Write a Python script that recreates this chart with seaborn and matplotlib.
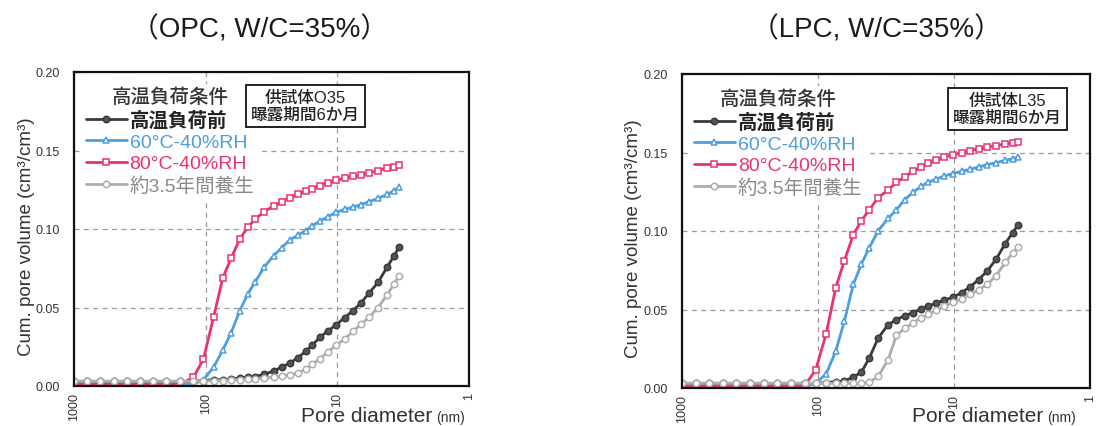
import matplotlib
matplotlib.use("Agg")
import matplotlib.pyplot as plt
from matplotlib.ticker import FixedLocator, FixedFormatter, NullLocator
import pandas as pd
import seaborn as sns

# Pore diameters (nm) of the mercury intrusion steps
diameter_nm = [1000, 794, 631, 501, 398, 316, 251, 200, 158, 124, 104, 87, 74, 64,
               55, 48, 42, 36, 30.5, 26.5, 23, 20, 17.4, 15.5, 13.6, 11.8, 10.2,
               8.8, 7.6, 6.6, 5.7, 4.9, 4.2, 3.7, 3.4]

# Cumulative pore volume (cm3/cm3), OPC specimen O35
opc_before = [0.003, 0.003, 0.003, 0.003, 0.003, 0.003, 0.003, 0.003, 0.003, 0.003,
              0.0035, 0.004, 0.004, 0.0045, 0.005, 0.0055, 0.006, 0.0075, 0.0095,
              0.012, 0.0145, 0.018, 0.022, 0.026, 0.031, 0.035, 0.039, 0.0435,
              0.048, 0.053, 0.0595, 0.066, 0.0756, 0.083, 0.0884]
opc_60c = [0.001, 0.001, 0.001, 0.001, 0.001, 0.001, 0.001, 0.001, 0.001, 0.001,
           0.004, 0.012, 0.023, 0.034, 0.048, 0.0585, 0.0664, 0.0756, 0.083, 0.088,
           0.093, 0.096, 0.099, 0.102, 0.105, 0.1078, 0.1107, 0.1125, 0.114,
           0.1155, 0.1175, 0.1195, 0.122, 0.1245, 0.1267]
opc_80c = [0.001, 0.001, 0.001, 0.001, 0.001, 0.001, 0.001, 0.001, 0.001, 0.0055,
           0.017, 0.044, 0.069, 0.0815, 0.0937, 0.101, 0.1064, 0.111, 0.1146,
           0.1175, 0.120, 0.122, 0.124, 0.1256, 0.1277, 0.1295, 0.131, 0.1322,
           0.1335, 0.1345, 0.1358, 0.1372, 0.1388, 0.1398, 0.1405]
opc_cured = [0.003, 0.003, 0.003, 0.003, 0.003, 0.003, 0.003, 0.003, 0.003, 0.003,
             0.003, 0.0035, 0.0035, 0.004, 0.004, 0.0045, 0.0045, 0.005, 0.0058,
             0.0065, 0.0072, 0.008, 0.0107, 0.0138, 0.0174, 0.0217, 0.026, 0.030,
             0.0348, 0.0394, 0.044, 0.050, 0.058, 0.065, 0.0702]

# Cumulative pore volume (cm3/cm3), LPC specimen L35
lpc_before = [0.003, 0.003, 0.003, 0.003, 0.003, 0.003, 0.003, 0.003, 0.003, 0.003,
              0.003, 0.0035, 0.004, 0.0045, 0.007, 0.010, 0.019, 0.032, 0.0403,
              0.0435, 0.046, 0.048, 0.0505, 0.052, 0.054, 0.056, 0.0577, 0.0607,
              0.0645, 0.069, 0.0745, 0.082, 0.092, 0.099, 0.1036]
lpc_60c = [0.001, 0.001, 0.001, 0.001, 0.001, 0.001, 0.001, 0.001, 0.001, 0.001,
           0.003, 0.009, 0.0236, 0.0425, 0.066, 0.0788, 0.0893, 0.1003, 0.108,
           0.1135, 0.120, 0.1246, 0.1286, 0.131, 0.133, 0.135, 0.1366, 0.138,
           0.1393, 0.1408, 0.1423, 0.1435, 0.145, 0.146, 0.147]
lpc_80c = [0.001, 0.001, 0.001, 0.001, 0.001, 0.001, 0.001, 0.001, 0.001, 0.002,
           0.0115, 0.0347, 0.064, 0.081, 0.0977, 0.1065, 0.1135, 0.1213, 0.1261,
           0.131, 0.1345, 0.1381, 0.1408, 0.143, 0.1451, 0.1472, 0.1486, 0.1499,
           0.1512, 0.1523, 0.1534, 0.1544, 0.1555, 0.1561, 0.1566]
lpc_cured = [0.003, 0.003, 0.003, 0.003, 0.003, 0.003, 0.003, 0.003, 0.003, 0.003,
             0.003, 0.003, 0.003, 0.003, 0.003, 0.003, 0.0036, 0.0075, 0.018,
             0.0335, 0.038, 0.0415, 0.0447, 0.047, 0.0494, 0.052, 0.0545, 0.0565,
             0.060, 0.0625, 0.066, 0.0715, 0.080, 0.086, 0.090]

series_labels = ["高温負荷前", "60°C-40%RH", "80°C-40%RH", "約3.5年間養生"]
panel_titles = ["（OPC, W/C=35%）", "（LPC, W/C=35%）"]
specimen_notes = ["供試体O35\n曝露期間6か月", "供試体L35\n曝露期間6か月"]
x_ticks = [1000, 100, 10, 1]
x_tick_labels = ["1000", "100", "10", "1"]
y_ticks = [0.00, 0.05, 0.10, 0.15, 0.20]
y_tick_labels = ["0.00", "0.05", "0.10", "0.15", "0.20"]

# line colour, marker, marker face, marker size, legend text colour, text weight
styles = [
    ("#3a3a3a", "o", "#555555", 4.6, "#222222", "semibold"),
    ("#4c9ee0", "^", "white", 4.6, "#4c9ee0", "normal"),
    ("#e8336f", "s", "white", 4.4, "#e8336f", "normal"),
    ("#adadad", "o", "white", 4.6, "#8a8a8a", "normal"),
]

sns.set_style("white")
plt.rcParams["font.family"] = ["Liberation Sans", "Noto Sans CJK JP"]

W, H = 1096, 427
fig = plt.figure(figsize=(W / 100, H / 100), dpi=100)

# axes boxes in pixels: left, top, right, bottom
boxes = [(74, 73, 469, 387), (682, 75, 1090, 389)]
title_pos = [(260, 30), (876, 30)]
note_pos = [(0.585, 0.893), (0.797, 0.89)]
xlabel_pos = [(432, 422), (1043, 422)]

panels = [
    [opc_before, opc_60c, opc_80c, opc_cured],
    [lpc_before, lpc_60c, lpc_80c, lpc_cured],
]

for i, values in enumerate(panels):
    l, t, r, b = boxes[i]
    ax = fig.add_axes([l / W, 1 - b / H, (r - l) / W, (b - t) / H])

    df = pd.DataFrame({"d": diameter_nm})
    for name, v in zip(series_labels, values):
        df[name] = v

    for name, (col, mk, face, ms, _, _) in zip(series_labels, styles):
        sns.lineplot(data=df, x="d", y=name, ax=ax, color=col, marker=mk,
                     mfc=face, mec=col, ms=ms, mew=1.1, lw=2.0, label=name,
                     errorbar=None, sort=False)

    ax.set_xscale("log")
    ax.set_xlim(1000, 1)
    ax.set_ylim(0, 0.20)
    ax.xaxis.set_major_locator(FixedLocator(x_ticks))
    ax.xaxis.set_major_formatter(FixedFormatter(x_tick_labels))
    ax.xaxis.set_minor_locator(NullLocator())
    ax.yaxis.set_major_locator(FixedLocator(y_ticks))
    ax.yaxis.set_major_formatter(FixedFormatter(y_tick_labels))
    ax.tick_params(axis="x", direction="in", length=3, width=1.2, pad=4,
                   labelsize=9, labelcolor="#333333", labelrotation=90)
    ax.tick_params(axis="y", direction="out", length=3, width=1.2, pad=7,
                   labelsize=9, labelcolor="#333333")
    for s in ax.spines.values():
        s.set_color("#111111")
        s.set_linewidth(1.6)

    ax.set_axisbelow(True)
    ax.grid(True, which="major", ls=(0, (4, 3.5)), color="#9a9a9a", lw=0.9)

    ax.set_xlabel("")
    ax.set_ylabel("Cum. pore volume (cm³/cm³)", fontsize=13.5, color="#333333")
    ax.yaxis.set_label_coords(-0.098, 0.479)

    leg = ax.legend(loc="upper left", bbox_to_anchor=(0.02, 0.962),
                    title="高温負荷条件", frameon=True, facecolor="white",
                    edgecolor="none", framealpha=1, fontsize=14,
                    title_fontsize=14, handlelength=2.1, handletextpad=0.15,
                    labelspacing=0.2, borderpad=0.2, borderaxespad=0,
                    numpoints=1)
    for txt, st in zip(leg.get_texts(), styles):
        txt.set_color(st[4])
        txt.set_fontweight(st[5])
    leg.get_title().set_color("#333333")
    leg.get_title().set_fontweight("medium")
    leg.set_zorder(5)

    nx, ny = note_pos[i]
    ax.text(nx, ny, specimen_notes[i], transform=ax.transAxes, ha="center",
            va="center", ma="center", fontsize=12, color="#222222",
            fontweight="medium", linespacing=1.15, zorder=6,
            bbox=dict(boxstyle="square,pad=0.3", fc="white", ec="#111111", lw=1.3))

    tx, ty = title_pos[i]
    fig.text(tx / W, 1 - ty / H, panel_titles[i], ha="center", va="center",
             fontsize=20, color="#1a1a1a")

    lx, ly = xlabel_pos[i]
    fig.text(lx / W, 1 - ly / H, "Pore diameter", ha="right", va="baseline",
             fontsize=15, color="#333333")
    fig.text((lx + 4) / W, 1 - ly / H, "(nm)", ha="left", va="baseline",
             fontsize=10, color="#333333")

fig.savefig("out.png", dpi=100)
